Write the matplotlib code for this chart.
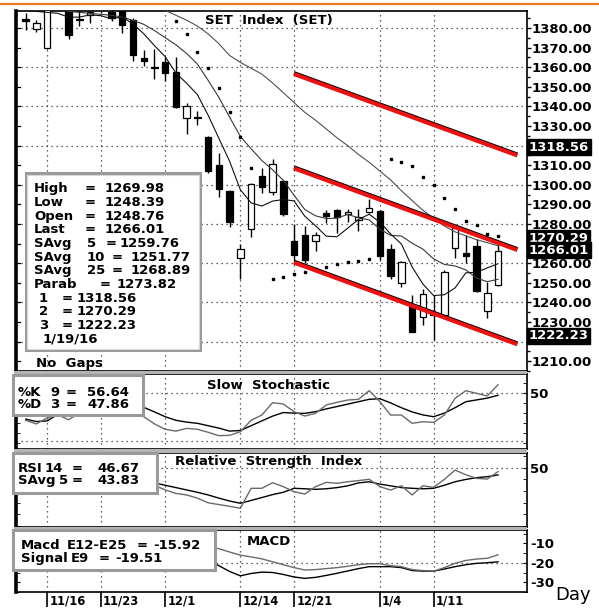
import numpy as np
import matplotlib
matplotlib.use("Agg")
import matplotlib.pyplot as plt
from matplotlib.patches import Rectangle
from matplotlib.lines import Line2D
from matplotlib.ticker import MultipleLocator
import matplotlib.patheffects as pe
import matplotlib.transforms as mtransforms

plt.rcParams['font.family'] = ['DejaVu Sans']

# ---------------- data ----------------
dates = ['11/12', '11/13', '11/16', '11/17', '11/18', '11/19', '11/20',
         '11/23', '11/24', '11/25', '11/26', '11/27', '11/30',
         '12/1', '12/2', '12/3', '12/4', '12/8', '12/9', '12/11',
         '12/14', '12/15', '12/16', '12/17', '12/18',
         '12/21', '12/22', '12/23', '12/24', '12/25', '12/28', '12/29', '12/30',
         '1/4', '1/5', '1/6', '1/7', '1/8',
         '1/11', '1/12', '1/13', '1/14', '1/15', '1/18', '1/19']

opens = [1384.5, 1379.5, 1370, 1394, 1393, 1384.5, 1386.5, 1391, 1388, 1391, 1384, 1364.5, 1360,
         1362.5, 1357.5, 1334, 1334.5, 1324.5, 1310, 1297, 1262.5, 1277.5, 1304.5, 1296.5, 1302,
         1271.5, 1274.5, 1271.5, 1285.5, 1287, 1285, 1282, 1286, 1286.5, 1267, 1250, 1238, 1232.5,
         1233.5, 1233.5, 1268, 1265, 1269, 1235.5, 1248.76]
highs = [1387.5, 1384, 1395, 1397, 1395, 1390, 1390, 1393, 1389.5, 1393, 1385.3, 1369, 1369.5,
         1365, 1365, 1342, 1337.5, 1325, 1316, 1297.5, 1270, 1301, 1308.5, 1313, 1302.5,
         1280, 1279, 1276, 1287, 1287.5, 1287.5, 1287.5, 1293, 1287, 1270, 1261, 1244, 1247,
         1244, 1256.5, 1278.5, 1274.5, 1272.5, 1250.5, 1269.98]
lows = [1379, 1378, 1369.5, 1391, 1374.5, 1381, 1382.5, 1387.5, 1383.5, 1377.5, 1363, 1360.5, 1354,
        1353, 1339, 1326, 1330.5, 1306, 1294, 1278.5, 1252, 1273.5, 1296, 1295, 1284,
        1261.5, 1260, 1266, 1280.5, 1275.5, 1281, 1276.5, 1285.5, 1261.5, 1252, 1248, 1225, 1228.5,
        1221, 1232.5, 1262.5, 1260, 1245.5, 1232, 1248.39]
closes = [1383.5, 1382.5, 1392, 1393, 1376.5, 1384, 1388, 1390, 1385, 1381.5, 1366, 1363, 1359.5,
          1357, 1339.5, 1340, 1334, 1307, 1298, 1281, 1267.5, 1300.5, 1299, 1310.5, 1285,
          1264, 1261.5, 1274.5, 1284, 1283.5, 1286, 1283.5, 1288, 1263.5, 1253.5, 1260.5, 1225, 1244.5,
          1234, 1255.5, 1278, 1263.5, 1246, 1245, 1266.01]

savg5 = [1389, 1388.5, 1388, 1387.5, 1385.5, 1385.6, 1386.7, 1386.3, 1384.7, 1385.7, 1382.1, 1377.1,
         1371.0, 1365.4, 1357.0, 1351.8, 1346.0, 1335.5, 1323.7, 1312.0, 1297.5, 1290.8, 1289.2,
         1291.7, 1292.5, 1291.8, 1284.0, 1279.1, 1273.8, 1273.5, 1277.9, 1282.3, 1285.0, 1280.9,
         1274.9, 1269.8, 1258.1, 1249.4, 1243.5, 1243.9, 1247.4, 1255.1, 1255.4, 1257.6, 1259.76]
savg10 = [1391, 1390.5, 1390, 1389.5, 1388.5, 1388, 1387.5, 1387, 1386.5, 1385.6, 1383.9, 1381.9,
          1378.7, 1375.1, 1371.4, 1367.0, 1361.6, 1353.3, 1344.6, 1334.5, 1324.7, 1318.4, 1312.4,
          1307.7, 1302.3, 1294.7, 1287.4, 1284.2, 1282.8, 1283.0, 1284.9, 1283.2, 1282.1, 1277.4,
          1274.2, 1273.9, 1270.2, 1267.2, 1262.2, 1259.4, 1258.6, 1256.6, 1252.4, 1250.6, 1251.77]
savg25 = [1405, 1404, 1403, 1402, 1401.5, 1401, 1400, 1399, 1398, 1396.5, 1395, 1393, 1391,
          1389, 1386.5, 1384, 1381, 1377, 1372, 1366, 1362.5, 1359.5, 1356.5, 1352, 1347,
          1342, 1337, 1333, 1328.5, 1324, 1320, 1315.5, 1311.5, 1307, 1302.5, 1297, 1292, 1287,
          1283, 1279, 1276, 1274, 1272, 1270.5, 1268.89]
nan = np.nan
parab = [nan] * 14 + [1383.5, 1377, 1367.6, 1359.7, 1349.2, 1337.3, 1324.2, 1308.4, nan,
                      1252.1, 1253.2, 1254.6, 1255.7, 1257, 1258.2, 1259.4, 1260.4, 1261.2, 1262.1, nan,
                      1313, 1311.8, 1309.7, 1304.1, 1300, 1293.1, 1287.5, 1281.7, 1279.5, 1274.9, 1273.82]

# regression channel (day index, value) at start and end
channel_idx = [25, 45.8]
channel_1 = [1356.5, 1314.96]
channel_2 = [1308.4, 1266.7]
channel_3 = [1260.3, 1218.6]
channel_last = [1318.56, 1270.29, 1222.23]

stoch_k = [27, 24, 29, 31.5, 27.5, 33, 38, 40, 38, 36, 33, 30, 24, 19.5, 18, 20.3, 19.5, 17, 14.2,
           14.5, 17.5, 27, 31.4, 41.7, 40.6, 34.2, 30.6, 32.8, 39.8, 42, 43.9, 44.5, 51.7, 42.5,
           31.4, 31.4, 24.5, 25.8, 25.3, 31.4, 45.3, 51.7, 49.5, 47.3, 56.64]
stoch_d = [28, 26, 26.5, 32, 33, 34, 35, 37, 39, 38.5, 38, 37.8, 34, 30, 27, 25.5, 24.5, 22.5, 20.5,
           18, 18.5, 22.5, 26.5, 30.5, 33.5, 33, 32.8, 34.2, 36.5, 38.5, 40.5, 42.5, 44.5, 45,
           41.5, 37.5, 34, 31.5, 30, 33, 37.5, 42.5, 44, 45.5, 47.86]
rsi14 = [45, 44, 48, 50, 44, 46, 47, 48, 46, 44, 39, 37, 35, 31, 28, 26.7, 24, 20, 18.5, 17, 15.3,
         32.4, 32.4, 37.2, 33.8, 29.5, 27.5, 33.8, 37.5, 36.7, 38, 39, 40.1, 33.8, 30.9, 34.6,
         26.7, 34.6, 33.2, 40, 48, 44, 40.9, 40.3, 46.67]
rsi_avg5 = [46, 45, 46, 47, 46, 46, 47, 47, 46, 45, 43, 40, 37, 35, 33, 31, 29, 26.7, 24, 21.5, 19.6,
            22, 24.5, 27, 29, 32.4, 32, 31.5, 32, 33, 34.5, 37, 38, 36, 34.5, 33, 32.4, 32, 32.4,
            35, 38, 40, 41.5, 42.3, 43.83]
macd = [-8, -8.5, -8, -7.5, -7.5, -7, -6.5, -6, -6, -6, -6.5, -7, -7.5, -8, -9, -10, -11, -11.5,
        -12.8, -14.5, -16.1, -17, -18, -19.5, -21, -22.5, -23.7, -23.5, -23, -22.5, -21.8, -21,
        -20.5, -20.5, -21.5, -22, -23.5, -24, -24.3, -22.5, -20.3, -18.8, -18.1, -17.7, -15.92]
signal = [-6, -6.5, -6.5, -6.3, -6.8, -6.6, -6.3, -6, -6.2, -6.6, -7.8, -9, -10.5, -12, -13.8, -15,
          -16.5, -18.5, -21.5, -24.5, -26.7, -25.5, -24.8, -25, -26, -27.3, -28, -27.5, -26.5,
          -25.4, -24.2, -23, -22, -22, -22, -22.5, -24, -24.3, -24.3, -23.2, -22, -21, -20.3,
          -20, -19.51]

date_labels = ['11/16', '11/23', '12/1', '12/14', '12/21', '1/4', '1/11']
price_ticks = list(range(1210, 1381, 10))
covered_ticks = [1320, 1270, 1220]   # hidden behind the value flags

# ---------------- layout ----------------
W, H = 599, 609
fig = plt.figure(figsize=(W / 100, H / 100), dpi=100)
fig.patch.set_facecolor('white')


def rect(l, t, r, b):
    return [l / W, 1 - b / H, (r - l) / W, (b - t) / H]


def fxy(x, y):
    return (x / W, 1 - y / H)


x = np.arange(len(dates))
xlim = (-0.9, 46.7)
grid_idx = [dates.index(d) for d in date_labels]
BOLD = dict(fontweight='bold', fontsize=9.5)
DOT = dict(color='#303030', linestyle=(0, (1, 3)), linewidth=0.9)

ax = fig.add_axes(rect(16, 11, 527, 371))
ax_st = fig.add_axes(rect(16, 374, 527, 449))
ax_rsi = fig.add_axes(rect(16, 453, 527, 527))
ax_macd = fig.add_axes(rect(16, 530, 527, 592))

# gray splitter bands
for (t, b) in [(371, 374), (449, 453), (527, 530)]:
    fig.add_artist(Rectangle(fxy(14, b), (513) / W, (b - t) / H, transform=fig.transFigure,
                             facecolor='#b4b4b4', edgecolor='none', zorder=0.5))

for a in (ax, ax_st, ax_rsi, ax_macd):
    a.set_xlim(*xlim)
    for s in a.spines.values():
        s.set_linewidth(1.2)
        s.set_color('black')
    a.spines['left'].set_linewidth(2.6)
    for gi in grid_idx:
        a.axvline(gi, zorder=1, **DOT)
    a.yaxis.tick_right()

# ---------------- main price panel ----------------
ax.set_ylim(1205, 1388.7)
for v in range(1220, 1381, 20):
    ax.axhline(v, zorder=1, **DOT)

ax.plot(x, savg25, color='#505050', lw=0.8, zorder=5)
ax.plot(x, savg10, color='#383838', lw=0.8, zorder=5)
ax.plot(x, savg5, color='#101010', lw=0.8, zorder=5)

o = np.array(opens); c = np.array(closes)
ax.vlines(x, lows, highs, color='black', lw=1.0, zorder=3)
body_bottom = np.minimum(o, c)
body_h = np.maximum(np.abs(c - o), 0.25)
body_col = ['white' if cc > oo else 'black' for oo, cc in zip(o, c)]
ax.bar(x, body_h, bottom=body_bottom, width=0.6, color=body_col, edgecolor='black',
       linewidth=0.9, zorder=4)

ax.plot(x, parab, linestyle='none', marker='s', markersize=1.6, color='black', zorder=6)

for ch in (channel_1, channel_2, channel_3):
    ax.plot(channel_idx, ch, color='#ee1111', lw=2.9, solid_capstyle='butt', zorder=7,
            path_effects=[pe.SimpleLineShadow(offset=(0, 0.7), shadow_color='black', alpha=1.0),
                          pe.Normal()])

ax.set_yticks(price_ticks)
ax.set_yticklabels(['' if v in covered_ticks else f'{v:.2f}' for v in price_ticks], **BOLD)
ax.yaxis.set_minor_locator(MultipleLocator(5))
ax.tick_params(axis='y', which='major', direction='out', length=3, width=1, pad=0.5,
               right=True, left=False)
ax.tick_params(axis='y', which='minor', direction='out', length=2, width=1, right=True, left=False)
ax.set_xticks([])
blend = mtransforms.blended_transform_factory(ax.transAxes, ax.transData)
for v in price_ticks:
    ax.plot([0, 4 / 511], [v, v], color='black', lw=0.9, transform=blend, clip_on=False, zorder=8)

# value flags on the right axis
flags = [(channel_last[0], 1.0), (channel_last[1], 3.6), (closes[-1], 0.8), (channel_last[2], 1.0)]
for val, dy in flags:
    ax.annotate(f'{val:.2f}', xy=(1, val), xycoords=('axes fraction', 'data'),
                xytext=(1.2, dy), textcoords='offset points', ha='left', va='center',
                color='white', annotation_clip=False, zorder=12,
                bbox=dict(boxstyle='square,pad=0.12', fc='black', ec='black'), **BOLD)

fig.text(*fxy(205, 24), 'SET  Index  (SET)', ha='left', va='baseline', zorder=6, **BOLD)

# legend box (main)
fig.add_artist(Rectangle(fxy(26, 350), 174 / W, 177 / H, transform=fig.transFigure,
                         facecolor='white', edgecolor='#9a9a9a', linewidth=2.2, zorder=3))
fig.add_artist(Rectangle(fxy(27.5, 348.5), 171 / W, 174 / H, transform=fig.transFigure,
                         facecolor='none', edgecolor='#d8d8d8', linewidth=0.8, zorder=3.1))
main_rows = [
    [(34, 'High'), (85, '='), (105, f'{highs[-1]:.2f}')],
    [(34, 'Low'), (85, '='), (105, f'{lows[-1]:.2f}')],
    [(34, 'Open'), (85, '='), (105, f'{opens[-1]:.2f}')],
    [(34, 'Last'), (85, '='), (105, f'{closes[-1]:.2f}')],
    [(34, 'SAvg'), (87, '5'), (106, '='), (120, f'{savg5[-1]:.2f}')],
    [(34, 'SAvg'), (87, '10'), (112, '='), (131, f'{savg10[-1]:.2f}')],
    [(34, 'SAvg'), (87, '25'), (112, '='), (131, f'{savg25[-1]:.2f}')],
    [(34, 'Parab'), (100, '='), (117, f'{parab[-1]:.2f}')],
    [(39, '1'), (62, '='), (77, f'{channel_last[0]:.2f}')],
    [(39, '2'), (62, '='), (77, f'{channel_last[1]:.2f}')],
    [(39, '3'), (62, '='), (77, f'{channel_last[2]:.2f}')],
    [(43, '1/19/16')],
]
for k, row in enumerate(main_rows):
    yb = 187.3 + k * 13.7 + 4.8
    for xx, s in row:
        fig.text(*fxy(xx, yb), s, ha='left', va='baseline', zorder=4, **BOLD)
fig.text(*fxy(36, 367.5), 'No  Gaps', ha='left', va='baseline', zorder=4, **BOLD)

# ---------------- stochastic ----------------
ax_st.set_ylim(3.1, 65.6)
ax_st.axhline(50, zorder=1, **DOT)
ax_st.axhline(10, zorder=1, **DOT)
ax_st.plot(x, stoch_d, color='black', lw=1.0, zorder=3)
ax_st.plot(x, stoch_k, color='#6a6a6a', lw=1.0, zorder=3)
ax_st.set_yticks([50])
ax_st.set_yticklabels(['50'], **BOLD)
ax_st.yaxis.set_minor_locator(MultipleLocator(50 / 6))
ax_st.tick_params(axis='y', which='both', direction='in', length=3, pad=2, right=True, left=True)
ax_st.set_xticks([])

# ---------------- RSI ----------------
ax_rsi.set_ylim(-0.7, 62.6)
ax_rsi.axhline(50, zorder=1, **DOT)
ax_rsi.plot(x, rsi_avg5, color='black', lw=1.0, zorder=3)
ax_rsi.plot(x, rsi14, color='#6a6a6a', lw=1.0, zorder=3)
ax_rsi.set_yticks([50])
ax_rsi.set_yticklabels(['50'], **BOLD)
ax_rsi.yaxis.set_minor_locator(MultipleLocator(10))
ax_rsi.tick_params(axis='y', which='both', direction='in', length=3, pad=2, right=True, left=True)
ax_rsi.set_xticks([])

# ---------------- MACD ----------------
ax_macd.set_ylim(-35.0, -3.2)
ax_macd.axhline(-20, zorder=1, **DOT)
ax_macd.plot(x, signal, color='black', lw=1.0, zorder=3)
ax_macd.plot(x, macd, color='#6a6a6a', lw=1.0, zorder=3)
ax_macd.set_yticks([-10, -20, -30])
ax_macd.set_yticklabels(['-10', '-20', '-30'], **BOLD)
ax_macd.yaxis.set_minor_locator(MultipleLocator(5))
ax_macd.tick_params(axis='y', which='both', direction='in', length=3, pad=2, right=True, left=True)
ax_macd.set_xticks(grid_idx)
ax_macd.set_xticklabels([])
ax_macd.tick_params(axis='x', direction='out', length=11, width=1.2, bottom=True)
for gi, lbl in zip(grid_idx, date_labels):
    ax_macd.annotate(lbl, xy=(gi, 0), xycoords=('data', 'axes fraction'), xytext=(1.6, -6.2),
                     textcoords='offset points', ha='left', va='center', annotation_clip=False,
                     fontweight='bold', fontsize=8.3)

# ---------------- indicator legends ----------------
def legend_box(l, t, r, b, rows, ys):
    fig.add_artist(Rectangle(fxy(l, b), (r - l) / W, (b - t) / H, transform=fig.transFigure,
                             facecolor='white', edgecolor='#9a9a9a', linewidth=2.2, zorder=3))
    for row, yc in zip(rows, ys):
        for xx, s in row:
            fig.text(*fxy(xx, yc + 4.8), s, ha='left', va='baseline', zorder=4, **BOLD)


legend_box(13, 375, 143, 415,
           [[(18, '%K'), (50, '9'), (66, '='), (87, f'{stoch_k[-1]:.2f}')],
            [(18, '%D'), (50, '3'), (66, '='), (87, f'{stoch_d[-1]:.2f}')]],
           [390.7, 403.3])
legend_box(13, 453, 157, 493,
           [[(18, 'RSI'), (45, '14'), (72, '='), (97, f'{rsi14[-1]:.2f}')],
            [(18, 'SAvg'), (59, '5'), (72, '='), (97, f'{rsi_avg5[-1]:.2f}')]],
           [466.7, 479.0])
legend_box(13, 530, 215, 570,
           [[(20.7, 'Macd'), (66.7, 'E12-E25'), (136.7, '='), (153.3, f'{macd[-1]:.2f}')],
            [(20.7, 'Signal'), (70.7, 'E9'), (98.3, '='), (115, f'{signal[-1]:.2f}')]],
           [544.0, 557.3])

fig.text(*fxy(207, 389), 'Slow  Stochastic', ha='left', va='baseline', zorder=4, **BOLD)
fig.text(*fxy(175, 465.5), 'Relative  Strength  Index', ha='left', va='baseline', zorder=4, **BOLD)
fig.text(*fxy(247, 545), 'MACD', ha='left', va='baseline', zorder=4, **BOLD)
fig.text(*fxy(555, 600), 'Day', ha='left', va='baseline', fontsize=13, zorder=4)

# top orange rule
fig.add_artist(Line2D([0, 1], [1 - 4 / H] * 2, transform=fig.transFigure, color='#ee7722', lw=1.6))

fig.savefig('out.png', dpi=100)
